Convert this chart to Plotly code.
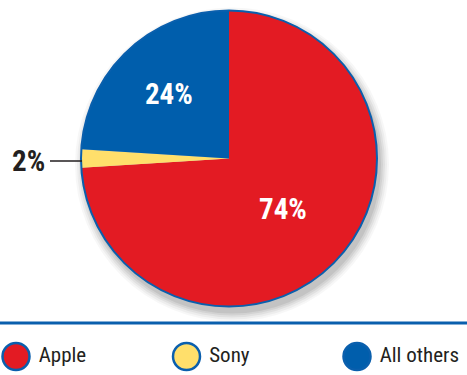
import plotly.graph_objects as go

labels = ["Apple", "Sony", "All others"]
shares = [74, 2, 24]
colors = ["#e31b23", "#ffdf6b", "#005eac"]
blue = "#0a5fad"

W, H = 467, 375
cx, cy, R = 229, 158.5, 148  # pie centre / radius in px

def px_x(x):
    return x / W

def px_y(y):
    return 1 - y / H

FONT = "Liberation Sans Narrow, Roboto Condensed, Arial Narrow, Liberation Sans, sans-serif"

text_labels = [f"{v}%" if v >= 5 else "" for v in shares]

fig = go.Figure()
fig.add_trace(go.Pie(
    labels=labels, values=shares, sort=False, direction="clockwise", rotation=0,
    marker=dict(colors=colors, line=dict(width=0)),
    text=text_labels, textinfo="text", textposition="inside",
    insidetextorientation="horizontal",
    textfont=dict(family=FONT, size=29, color="white", weight="bold"),
    domain=dict(x=[px_x(cx - R), px_x(cx + R)], y=[px_y(cy + R), px_y(cy - R)]),
    showlegend=False, hoverinfo="label+percent",
))

# legend row drawn as a scatter on a hidden axis
fig.add_trace(go.Scatter(
    x=list(range(len(labels))), y=[0] * len(labels), mode="markers+text",
    marker=dict(size=27, color=colors, line=dict(color=blue, width=2.5)),
    text=[" " + l for l in labels], textposition="middle right",
    textfont=dict(family=FONT, size=21, color="#231f20"),
    xaxis="x2", yaxis="y2", showlegend=False, hoverinfo="skip",
))

shapes = []
# soft shadow under the pie
for k, op in [(9, 0.03), (7, 0.04), (5, 0.05), (3, 0.06), (1, 0.07)]:
    shapes.append(dict(type="circle", xref="paper", yref="paper", layer="below",
                       x0=px_x(cx - R - k + 3), x1=px_x(cx + R + k + 3),
                       y0=px_y(cy + R + k + 6), y1=px_y(cy - R - k + 6),
                       fillcolor=f"rgba(0,0,0,{op})", line=dict(width=0)))
# outline of the pie
shapes.append(dict(type="circle", xref="paper", yref="paper", layer="above",
                   x0=px_x(cx - R), x1=px_x(cx + R), y0=px_y(cy + R), y1=px_y(cy - R),
                   line=dict(color=blue, width=2)))
# rule above legend
shapes.append(dict(type="line", xref="paper", yref="paper", x0=0, x1=1,
                   y0=px_y(323), y1=px_y(323), line=dict(color=blue, width=3)))

small = [(l, v) for l, v in zip(labels, shares) if v < 5]
annotations = []
for l, v in small:
    annotations.append(dict(
        x=px_x(cx - R + 1), y=px_y(161), xref="paper", yref="paper",
        text=f"<b>{v}%</b>", showarrow=True, arrowhead=0, arrowwidth=1.3,
        arrowcolor="#231f20", ax=-54, ay=0, standoff=0, startstandoff=4,
        font=dict(family=FONT, size=29, color="#231f20")))

fig.update_layout(
    width=W, height=H, margin=dict(l=0, r=0, t=0, b=0),
    paper_bgcolor="white", plot_bgcolor="rgba(0,0,0,0)",
    shapes=shapes, annotations=annotations,
    xaxis2=dict(domain=[0, 1], range=[-16 / 170.5, (W - 16) / 170.5], visible=False,
                fixedrange=True),
    yaxis2=dict(domain=[0, px_y(338)], range=[-1, 1], visible=False, fixedrange=True),
)

fig.write_html("out.html", config={"displayModeBar": False},
               post_script="document.body.style.margin='0px';")
